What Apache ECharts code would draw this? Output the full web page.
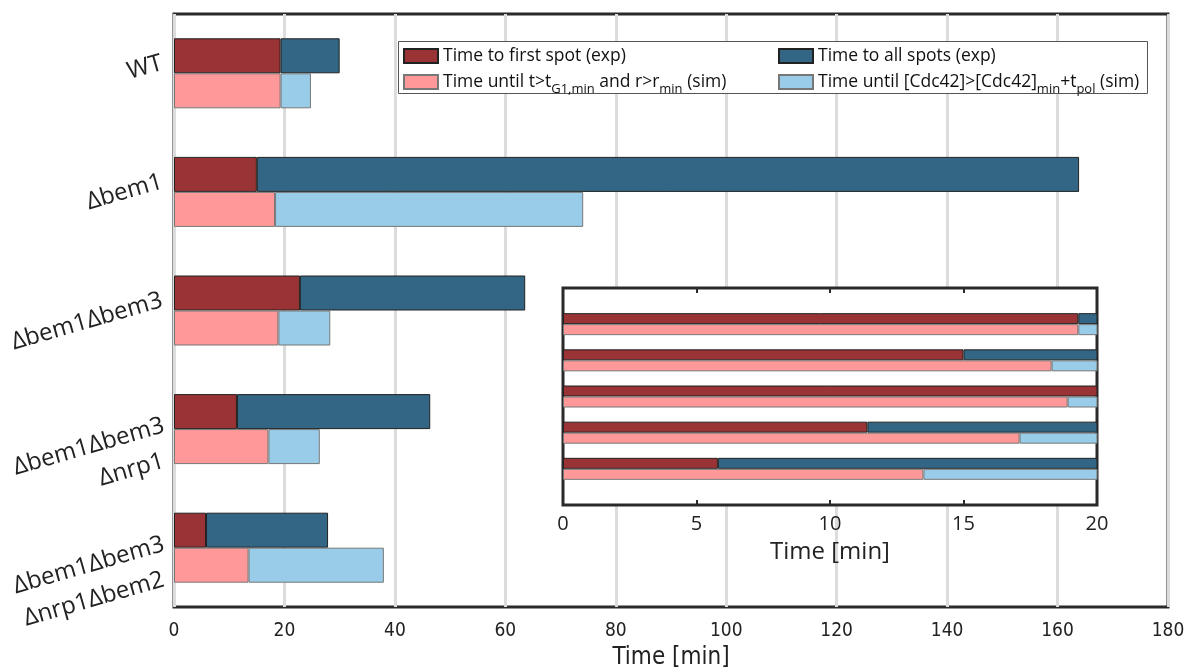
<!DOCTYPE html>
<html><head><meta charset="utf-8">
<script src="https://cdn.jsdelivr.net/npm/echarts@6/dist/echarts.min.js"></script>
<style>html,body{margin:0;padding:0;background:#fff}#c{width:1189px;height:669px}</style>
</head><body><div id="c"></div>
<script>
// ---- data ----
const categories = ['WT', 'Δbem1', 'Δbem1Δbem3', 'Δbem1Δbem3\nΔnrp1', 'Δbem1Δbem3\nΔnrp1Δbem2'];
const firstSpotExp = [19.3, 15.0, 22.8, 11.4, 5.8];
const allSpotsExp  = [30.0, 163.9, 63.6, 46.4, 27.9];
const firstSim     = [19.3, 18.3, 18.9, 17.1, 13.5];
const allSim       = [24.8, 74.1, 28.3, 26.4, 38.0];
const seriesNames = [
  'Time to first spot (exp)',
  'Time until t>tG1,min and r>rmin (sim)',
  'Time to all spots (exp)',
  'Time until [Cdc42]>[Cdc42]min+tpol (sim)'
];
const legendRich = {
  'Time to first spot (exp)': 'Time to first spot (exp)',
  'Time until t>tG1,min and r>rmin (sim)': 'Time until t>t{s|G1,min} and r>r{s|min} (sim)',
  'Time to all spots (exp)': 'Time to all spots (exp)',
  'Time until [Cdc42]>[Cdc42]min+tpol (sim)': 'Time until [Cdc42]>[Cdc42]{s|min}+t{s|pol} (sim)'
};

// ---- derived ----
const restExp = allSpotsExp.map((v, i) => v - firstSpotExp[i]);
const restSim = allSim.map((v, i) => v - firstSim[i]);
const pad = arr => [null].concat(arr, [null]);
const insetCats = [''].concat(categories, ['']);

const colors = {
  firstExp: '#993335', allExp: '#336685', firstSim: '#FF9999', allSim: '#99CCE8'
};
const borderDark = '#222';
const borderLight = '#777';

function bars(grid, width, z) {
  const xi = grid, yi = grid;
  const d = grid === 0 ? (a => a) : pad;
  return [
    { name: seriesNames[0], type: 'bar', stack: 'exp' + grid, xAxisIndex: xi, yAxisIndex: yi, barWidth: width, barGap: '0%', z: z,
      itemStyle: { color: colors.firstExp, borderColor: borderDark, borderWidth: 1 }, data: d(firstSpotExp) },
    { name: seriesNames[2], type: 'bar', stack: 'exp' + grid, xAxisIndex: xi, yAxisIndex: yi, barWidth: width, barGap: '0%', z: z,
      itemStyle: { color: colors.allExp, borderColor: borderDark, borderWidth: 1 }, data: d(restExp) },
    { name: seriesNames[1], type: 'bar', stack: 'sim' + grid, xAxisIndex: xi, yAxisIndex: yi, barWidth: width, barGap: '0%', z: z,
      itemStyle: { color: colors.firstSim, borderColor: borderLight, borderWidth: 1 }, data: d(firstSim) },
    { name: seriesNames[3], type: 'bar', stack: 'sim' + grid, xAxisIndex: xi, yAxisIndex: yi, barWidth: width, barGap: '0%', z: z,
      itemStyle: { color: colors.allSim, borderColor: borderLight, borderWidth: 1 }, data: d(restSim) }
  ];
}

const baseFont = "'Open Sans', 'Noto Sans', sans-serif";
const narrowFont = "'DejaVu Sans', 'Open Sans', sans-serif";
const legendText = {
  fontFamily: baseFont, fontSize: 17.5, color: '#111', lineHeight: 24,
  rich: { s: { fontFamily: baseFont, fontSize: 13, color: '#111', lineHeight: 24, padding: [15, 0, 0, 0] } }
};

const yLabelRich = {
  t:  { fontFamily: baseFont, fontSize: 24, color: '#222', lineHeight: 28, align: 'right' },
  g:  { fontFamily: baseFont, fontSize: 8, lineHeight: 22, align: 'right' },
  g2: { fontFamily: baseFont, fontSize: 8, lineHeight: 26, align: 'right' },
  t2: { fontFamily: baseFont, fontSize: 24, color: '#222', lineHeight: 34, align: 'right' },
  u:  { fontFamily: baseFont, fontSize: 24, color: '#222', lineHeight: 34, align: 'right', padding: [0, 10, 0, 0] }
};
function yLabelFormatter(v) {
  const lines = v.split('\n');
  if (lines.length === 1) return '{t|' + v + '}\n{g| }';
  return '{g2| }\n{t2|' + lines[0] + '}\n{u|' + lines[1] + '}';
}

const chart = echarts.init(document.getElementById('c'), null, { renderer: 'canvas' });
chart.setOption({
  animation: false,
  backgroundColor: '#fff',
  grid: [
    { left: 174, right: 21, top: 14, bottom: 62, show: true, borderColor: '#2a2a2a', borderWidth: 3, backgroundColor: 'transparent', containLabel: false, outerBoundsMode: 'none' },
    { left: 563, right: 92, top: 288, bottom: 164, show: true, borderColor: '#2a2a2a', borderWidth: 3, backgroundColor: '#fff', z: 5, containLabel: false, outerBoundsMode: 'none' }
  ],
  xAxis: [
    { type: 'value', gridIndex: 0, min: 0, max: 180, interval: 20,
      axisLine: { show: false }, axisTick: { show: false },
      splitLine: { show: true, lineStyle: { color: '#dcdcdc', width: 3 } },
      axisLabel: { fontFamily: narrowFont, fontWeight: 'condensed', fontSize: 19, color: '#222', margin: 15 },
      name: 'Time [min]', nameLocation: 'middle', nameGap: 36,
      nameTextStyle: { fontFamily: narrowFont, fontWeight: 'condensed', fontSize: 24, color: '#222' } },
    { type: 'value', gridIndex: 1, min: 0, max: 20, interval: 5, z: 6,
      axisLine: { show: false },
      axisTick: { show: true, inside: true, length: 5, lineStyle: { color: '#2a2a2a', width: 2 } },
      splitLine: { show: false },
      axisLabel: { fontFamily: baseFont, fontSize: 20, color: '#222', margin: 9 },
      name: 'Time [min]', nameLocation: 'middle', nameGap: 35,
      nameTextStyle: { fontFamily: baseFont, fontSize: 24, color: '#222' } },
    { type: 'value', gridIndex: 1, min: 0, max: 20, interval: 5, position: 'top', z: 6,
      axisLine: { show: false },
      axisTick: { show: true, inside: true, length: 5, lineStyle: { color: '#2a2a2a', width: 2 } },
      splitLine: { show: false }, axisLabel: { show: false } }
  ],
  yAxis: [
    { type: 'category', gridIndex: 0, inverse: true, data: categories,
      axisLine: { show: false }, axisTick: { show: false },
      axisLabel: { rotate: 16, margin: 9, align: 'right', formatter: yLabelFormatter, rich: yLabelRich } },
    { type: 'category', gridIndex: 1, inverse: true, data: insetCats, boundaryGap: false, z: 6,
      axisLine: { show: false }, axisTick: { show: false }, axisLabel: { show: false }, splitLine: { show: false } }
  ],
  legend: [
    { data: [seriesNames[0], seriesNames[1]], orient: 'vertical', left: 403, top: 44, itemWidth: 34, itemHeight: 14, itemGap: 0, z: 10,
      icon: 'rect', formatter: n => legendRich[n], textStyle: legendText, padding: 0, selectedMode: false },
    { data: [seriesNames[2], seriesNames[3]], orient: 'vertical', left: 778, top: 44, itemWidth: 34, itemHeight: 14, itemGap: 0, z: 10,
      icon: 'rect', formatter: n => legendRich[n], textStyle: legendText, padding: 0, selectedMode: false }
  ],
  graphic: [
    { type: 'rect', z: 8, shape: { x: 398.5, y: 41.5, width: 749, height: 52 }, style: { fill: '#fff', stroke: '#555', lineWidth: 1 } }
  ],
  series: bars(0, 35, 2).concat(bars(1, 11, 7))
});
</script></body></html>
